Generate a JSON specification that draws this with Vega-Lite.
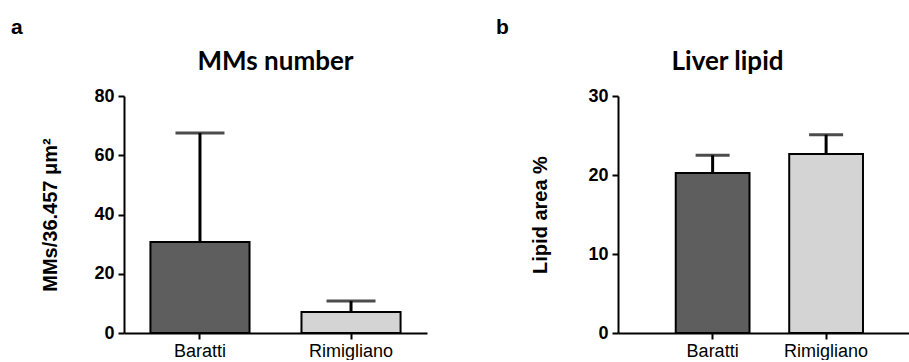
{
  "$schema": "https://vega.github.io/schema/vega-lite/v6.json",
  "background": "white",
  "padding": {"left": 10, "top": 17, "right": 0, "bottom": 0},
  "spacing": 68,
  "config": {
    "view": {"stroke": null},
    "axis": {
      "domainColor": "black", "domainWidth": 2, "tickColor": "black", "tickWidth": 2, "tickSize": 6,
      "labelColor": "black", "titleColor": "black", "grid": false,
      "labelFont": "Liberation Sans", "titleFont": "Liberation Sans"
    },
    "axisY": {"labelFontSize": 18, "labelFontWeight": "bold", "titleFontSize": 20, "titleFontWeight": "bold", "titlePadding": 33, "labelPadding": 4},
    "axisX": {"labelFontSize": 18, "labelFontWeight": "normal", "labelAngle": 0, "labelPadding": 3, "title": null},
    "title": {"color": "black"}
  },
  "hconcat": [
    {
      "title": {"text": "a", "anchor": "start", "frame": "bounds", "font": "Liberation Sans", "fontSize": 21, "fontWeight": "bold", "dx": -30, "offset": 11},
      "vconcat": [
        {
          "title": {"text": "MMs number", "font": "Lato", "fontSize": 26, "fontWeight": "bold", "offset": 12, "anchor": "middle", "frame": "group"},
          "width": 303, "height": 237,
          "data": {"values": [
            {"group": "Baratti", "mean": 30.7, "upper": 67.5},
            {"group": "Rimigliano", "mean": 7.1, "upper": 10.8}
          ]},
          "encoding": {
            "x": {"field": "group", "type": "nominal", "sort": ["Baratti", "Rimigliano"], "scale": {"paddingInner": 0.344, "paddingOuter": 0.175}}
          },
          "layer": [
            {"mark": {"type": "bar", "stroke": "black", "strokeWidth": 2},
             "encoding": {
               "y": {"field": "mean", "type": "quantitative", "scale": {"domain": [0, 80], "nice": false}, "axis": {"values": [0, 20, 40, 60, 80], "title": "MMs/36.457 μm²"}},
               "color": {"field": "group", "type": "nominal", "scale": {"domain": ["Baratti", "Rimigliano"], "range": ["#5e5e5e", "#d4d4d4"]}, "legend": null}
             }},
            {"mark": {"type": "rule", "color": "black", "strokeWidth": 3},
             "encoding": {"y": {"field": "mean", "type": "quantitative"}, "y2": {"field": "upper"}}},
            {"mark": {"type": "tick", "color": "black", "thickness": 3, "size": 49},
             "encoding": {"y": {"field": "upper", "type": "quantitative"}}}
          ]
        }
      ]
    },
    {
      "title": {"text": "b", "anchor": "start", "frame": "bounds", "font": "Liberation Sans", "fontSize": 21, "fontWeight": "bold", "dx": -35, "offset": 11},
      "vconcat": [
        {
          "title": {"text": "Liver lipid", "font": "Lato", "fontSize": 26, "fontWeight": "bold", "offset": 12, "anchor": "middle", "frame": "group", "dx": -37},
          "width": 293, "height": 237,
          "data": {"values": [
            {"group": "Baratti", "mean": 20.25, "upper": 22.5},
            {"group": "Rimigliano", "mean": 22.65, "upper": 25.1}
          ]},
          "encoding": {
            "x": {"field": "group", "type": "nominal", "sort": ["Baratti", "Rimigliano"], "scale": {"paddingInner": 0.35, "paddingOuter": 0.466, "align": 0.546}}
          },
          "layer": [
            {"mark": {"type": "bar", "stroke": "black", "strokeWidth": 2},
             "encoding": {
               "y": {"field": "mean", "type": "quantitative", "scale": {"domain": [0, 30], "nice": false}, "axis": {"values": [0, 10, 20, 30], "title": "Lipid area %", "titlePadding": 37}},
               "color": {"field": "group", "type": "nominal", "scale": {"domain": ["Baratti", "Rimigliano"], "range": ["#5e5e5e", "#d4d4d4"]}, "legend": null}
             }},
            {"mark": {"type": "rule", "color": "black", "strokeWidth": 3},
             "encoding": {"y": {"field": "mean", "type": "quantitative"}, "y2": {"field": "upper"}}},
            {"mark": {"type": "tick", "color": "black", "thickness": 3, "size": 34},
             "encoding": {"y": {"field": "upper", "type": "quantitative"}}}
          ]
        }
      ]
    }
  ]
}
